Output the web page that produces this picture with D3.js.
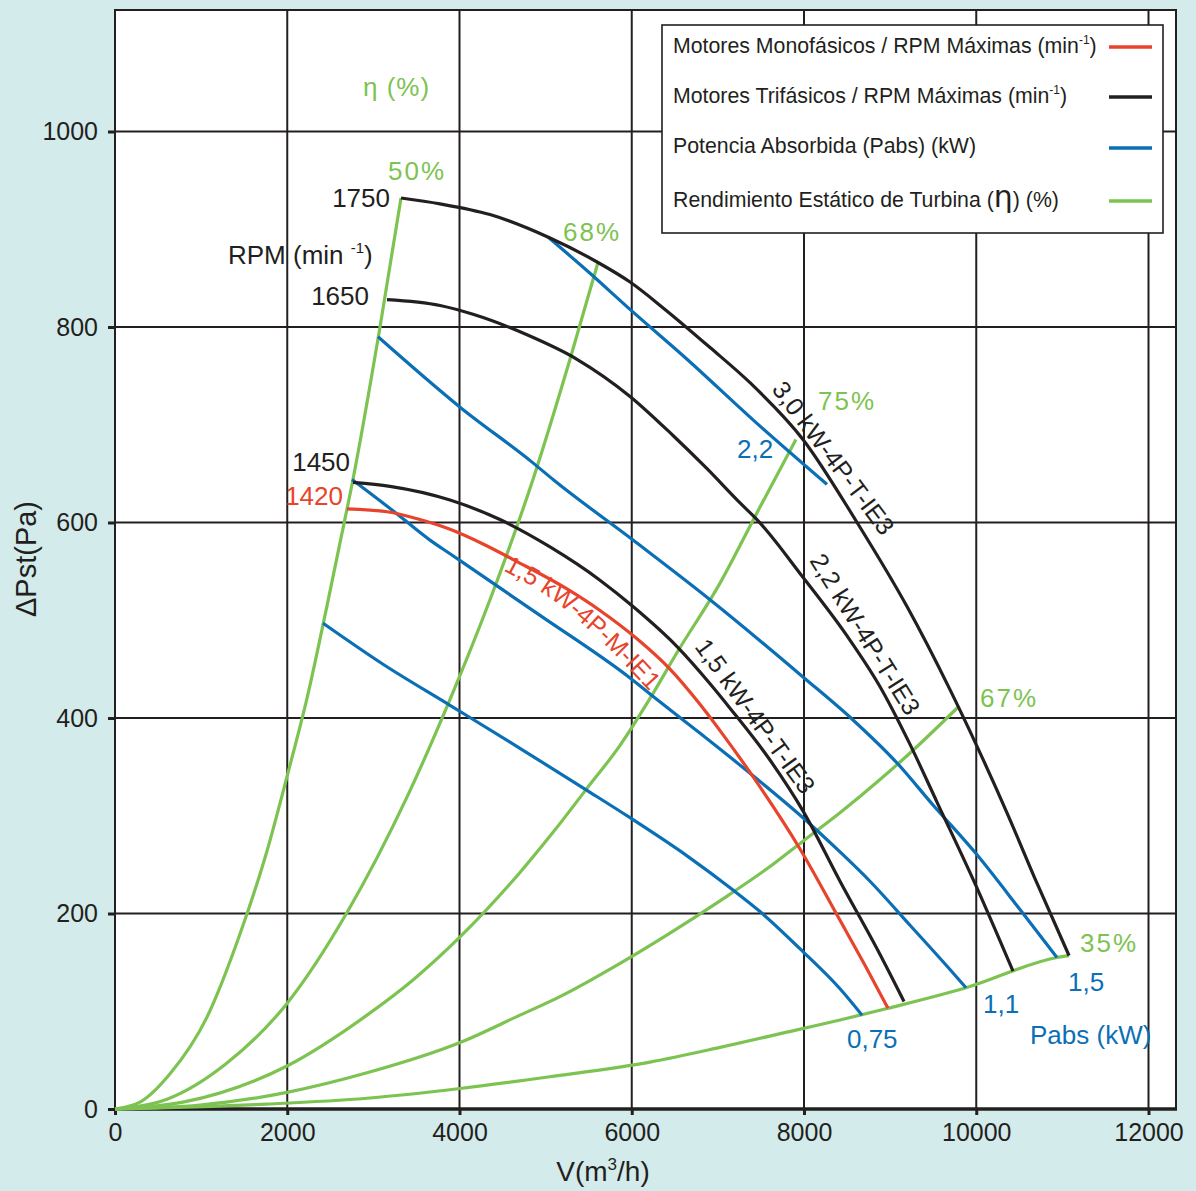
<!DOCTYPE html>
<html><head><meta charset="utf-8">
<script src="https://cdn.jsdelivr.net/npm/d3@7"></script>
<style>
html,body{margin:0;padding:0;background:#d3ebea;}
svg{display:block;font-family:"Liberation Sans",Arial,Helvetica,sans-serif;}
</style>
</head><body>
<svg id="c" width="1196" height="1191"></svg>
<script>
// ---------------- DATA (V in m3/h, ΔPst in Pa) ----------------
const xTicks = [0, 2000, 4000, 6000, 8000, 10000, 12000];
const yTicks = [0, 200, 400, 600, 800, 1000];

// Motor curves (max RPM)
const rpm1750_30kW_T = [[3321,932],[3774,926],[4354,915],[5051,891],[5608,866],[5980,846],[6386,818],[6909,779],[7373,743],[7988,685],[8616,600],[9196,514],[9695,429],[10009,371],[10357,303],[10705,231],[11077,157]];
const rpm1650_22kW_T = [[3158,828],[3774,822],[4157,813],[4784,792],[5364,767],[5980,729],[6479,689],[6874,655],[7257,620],[7454,603],[7988,544],[8500,484],[8883,432],[9231,373],[9544,314],[10009,226],[10427,141]];
const rpm1450_15kW_T = [[2763,641],[3193,637],[3890,623],[4470,603],[5051,575],[5631,541],[6015,514],[6526,473],[6909,435],[7150,409],[7605,357],[7988,305],[8418,233],[8883,158],[9161,110]];
const rpm1420_15kW_M = [[2694,614],[3158,611],[3541,603],[3890,593],[4273,578],[4668,560],[5248,532],[5631,510],[6061,481],[6444,450],[6792,414],[7059,383],[7408,340],[7954,266],[8418,193],[8708,147],[8975,103]];

// Absorbed power (kW)
const pabs22  = [[5028,892],[5515,855],[5980,818],[6642,767],[7408,705],[8267,639]];
const pabs15  = [[3054,790],[4006,718],[4853,661],[5086,644],[6015,582],[6909,521],[7988,442],[8569,398],[9080,354],[9498,311],[10009,260],[10508,204],[10937,155]];
const pabs11  = [[2752,644],[3228,612],[3657,582],[3890,568],[4935,505],[5980,441],[6293,419],[6827,382],[7338,346],[7988,298],[8418,263],[8766,233],[9231,188],[9672,145],[9881,124]];
const pabs075 = [[2415,497],[3112,455],[3890,413],[4702,369],[5480,326],[5980,298],[6642,259],[7176,224],[7489,202],[7988,161],[8418,123],[8674,96]];

// Static efficiency (%)
const eta50 = [[0,0],[290,7],[639,36],[1068,94],[1451,179],[1765,264],[1997,340],[2229,420],[2462,515],[2612,579],[2763,644],[3077,800],[3321,932]];
const eta68 = [[0,0],[604,10],[1300,47],[1997,108],[2694,201],[3390,319],[3890,419],[4354,521],[4853,644],[5283,767],[5608,866]];
const eta75 = [[0,0],[790,7],[1997,44],[2926,96],[3460,132],[4006,176],[4702,242],[5086,283],[5480,328],[5864,372],[6212,420],[6526,467],[7025,538],[7454,610],[7907,685]];
const eta67 = [[0,0],[987,4],[1997,17],[2926,37],[4006,68],[4702,96],[5167,115],[5864,149],[6444,180],[7025,213],[7605,248],[7988,274],[8418,303],[8883,337],[9266,367],[9788,411]];
const eta35 = [[0,0],[1765,5],[2926,11],[4006,21],[5051,33],[6212,48],[7025,63],[7919,81],[8418,91],[8975,103],[9881,124],[10937,155],[11077,157]];

const legendLabels = [
  "Motores Monofásicos / RPM Máximas (min",
  "Motores Trifásicos / RPM Máximas (min",
  "Potencia Absorbida (Pabs) (kW)",
  "Rendimiento Estático de Turbina ("
];

// ---------------- DRAWING ----------------
const W = 1196, H = 1191;
const P = {l:115, r:1176, t:10, b:1109};
const C = {black:"#231f20", red:"#e8432b", blue:"#0b6fb6", green:"#7dc351", bg:"#d3ebea"};
const FONT = '"Liberation Sans", Arial, Helvetica, sans-serif';

const x = d3.scaleLinear().domain([0, 12000]).range([115, 1148.5]);
const y = d3.scaleLinear().domain([0, 1000]).range([1109, 131.5]);

const svg = d3.select("#c");
svg.append("rect").attr("width", W).attr("height", H).attr("fill", C.bg);
svg.append("rect").attr("x", P.l).attr("y", P.t).attr("width", P.r - P.l).attr("height", P.b - P.t).attr("fill", "#fff");

// grid
const grid = svg.append("g").attr("stroke", C.black).attr("stroke-width", 2);
grid.selectAll("line.v").data(xTicks.slice(1)).join("line").attr("class","v")
  .attr("x1", d => x(d)).attr("x2", d => x(d)).attr("y1", P.t).attr("y2", P.b);
grid.selectAll("line.h").data(yTicks.slice(1)).join("line").attr("class","h")
  .attr("x1", P.l).attr("x2", P.r).attr("y1", d => y(d)).attr("y2", d => y(d));

// frame
svg.append("rect").attr("x", P.l).attr("y", P.t).attr("width", P.r - P.l).attr("height", P.b - P.t)
  .attr("fill", "none").attr("stroke", C.black).attr("stroke-width", 2);
svg.append("line").attr("x1", P.l - 1).attr("x2", P.r + 1).attr("y1", P.b).attr("y2", P.b)
  .attr("stroke", C.black).attr("stroke-width", 3.5);

// axes
const xAxis = svg.append("g").attr("transform", `translate(0,${P.b})`)
  .call(d3.axisBottom(x).tickValues(xTicks).tickSize(6).tickPadding(8).tickFormat(d3.format("d")));
const yAxis = svg.append("g").attr("transform", `translate(${P.l},0)`)
  .call(d3.axisLeft(y).tickValues(yTicks).tickSize(7).tickPadding(10).tickFormat(d3.format("d")));
[xAxis, yAxis].forEach(a => {
  a.attr("font-size", 25).attr("font-family", FONT);
  a.select(".domain").remove();
  a.selectAll("line").attr("stroke", C.black).attr("stroke-width", 3);
  a.selectAll("text").attr("fill", C.black);
});

// axis titles
const xt = svg.append("text").attr("x", 603).attr("y", 1181).attr("text-anchor", "middle")
  .attr("font-size", 28).attr("fill", C.black);
xt.append("tspan").text("V(m");
xt.append("tspan").text("3").attr("font-size", 17).attr("dy", -11);
xt.append("tspan").text("/h)").attr("dy", 11);
svg.append("text").attr("transform", "translate(36,559) rotate(-90)").attr("text-anchor", "middle")
  .attr("font-size", 29).attr("fill", C.black).text("ΔPst(Pa)");

// curves
const line = d3.line().x(d => x(d[0])).y(d => y(d[1])).curve(d3.curveMonotoneX);
const curves = svg.append("g").attr("fill", "none").attr("stroke-width", 3.2).attr("stroke-linejoin", "round");
[eta50, eta68, eta75, eta67, eta35].forEach(s => curves.append("path").attr("d", line(s)).attr("stroke", C.green));
[pabs22, pabs15, pabs11, pabs075].forEach(s => curves.append("path").attr("d", line(s)).attr("stroke", C.blue));
[rpm1750_30kW_T, rpm1650_22kW_T, rpm1450_15kW_T].forEach(s => curves.append("path").attr("d", line(s)).attr("stroke", C.black));
curves.append("path").attr("d", line(rpm1420_15kW_M)).attr("stroke", C.red);

// plain annotations (anchor in data units)
const ann = [
  {t:"η (%)", x:2880, y:1036, a:"start", c:C.green, ls:1},
  {t:"50%",   x:3170, y:950,  a:"start", c:C.green, ls:2},
  {t:"68%",   x:5202, y:888,  a:"start", c:C.green, ls:2},
  {t:"75%",   x:8163, y:715,  a:"start", c:C.green, ls:2},
  {t:"67%",   x:10044,y:411,  a:"start", c:C.green, ls:2},
  {t:"35%",   x:11205,y:161,  a:"start", c:C.green, ls:2},
  {t:"1750",  x:3193, y:923,  a:"end",   c:C.black},
  {t:"1650",  x:2949, y:822,  a:"end",   c:C.black},
  {t:"1450",  x:2729, y:653,  a:"end",   c:C.black},
  {t:"1420",  x:2647, y:618,  a:"end",   c:C.red},
  {t:"2,2",   x:7222, y:666,  a:"start", c:C.blue},
  {t:"1,5",   x:11065,y:121,  a:"start", c:C.blue},
  {t:"1,1",   x:10078,y:98,   a:"start", c:C.blue},
  {t:"0,75",  x:8499, y:62,   a:"start", c:C.blue},
  {t:"Pabs (kW)", x:10624, y:66, a:"start", c:C.blue}
];
svg.append("g").selectAll("text").data(ann).join("text")
  .attr("x", d => x(d.x)).attr("y", d => y(d.y)).attr("text-anchor", d => d.a)
  .attr("letter-spacing", d => d.ls || 0)
  .attr("font-size", 26).attr("fill", d => d.c).text(d => d.t);

// RPM (min-1)
const rpmT = svg.append("text").attr("x", x(1312)).attr("y", y(864)).attr("font-size", 26).attr("fill", C.black);
rpmT.append("tspan").text("RPM (min ");
rpmT.append("tspan").text("-1").attr("font-size", 15).attr("dy", -11);
rpmT.append("tspan").text(")").attr("dy", 11);

// rotated motor labels
const rot = [
  {t:"3,0 kW-4P-T-IE3", x:7617, y:736, r:53},
  {t:"2,2 kW-4P-T-IE3", x:8058, y:561, r:58},
  {t:"1,5 kW-4P-T-IE3", x:6723, y:473, r:54}
];
svg.append("g").selectAll("text").data(rot).join("text")
  .attr("transform", d => `translate(${x(d.x)},${y(d.y)}) rotate(${d.r})`)
  .attr("font-size", 25).attr("fill", C.black).text(d => d.t);

// curved label of the single-phase motor (baseline guide in data units)
const redLabelGuide = [[4505,551],[5062,522],[5700,474],[6300,418]];
svg.append("path").attr("id", "redLabelPath")
  .attr("d", d3.line().x(d => x(d[0])).y(d => y(d[1])).curve(d3.curveNatural)(redLabelGuide))
  .attr("fill", "none").attr("stroke", "none");
svg.append("text").attr("font-size", 25).attr("fill", C.red)
  .append("textPath").attr("href", "#redLabelPath").attr("startOffset", 0).text("1,5 kW-4P-M-IE1");

// legend
const lg = svg.append("g");
lg.append("rect").attr("x", 662).attr("y", 25).attr("width", 501).attr("height", 208)
  .attr("fill", "#fff").attr("stroke", C.black).attr("stroke-width", 1.6);
const rowsY = [53, 103, 153, 207];
const rowsLineY = [47, 97, 148, 201];
const rowCol = [C.red, C.black, C.blue, C.green];
legendLabels.forEach((t, i) => {
  const tx = lg.append("text").attr("x", 673).attr("y", rowsY[i]).attr("font-size", 21.3).attr("fill", C.black);
  tx.append("tspan").text(t);
  if (i < 2) {
    tx.append("tspan").text("-1").attr("font-size", 12).attr("dy", -9);
    tx.append("tspan").text(")").attr("dy", 9);
  } else if (i === 3) {
    tx.append("tspan").text("η").attr("font-size", 30).attr("font-family", '"DejaVu Sans", sans-serif');
    tx.append("tspan").text(") (%)");
  }
  lg.append("line").attr("x1", 1109).attr("x2", 1152).attr("y1", rowsLineY[i]).attr("y2", rowsLineY[i])
    .attr("stroke", rowCol[i]).attr("stroke-width", 3.5);
});
</script>
</body></html>
